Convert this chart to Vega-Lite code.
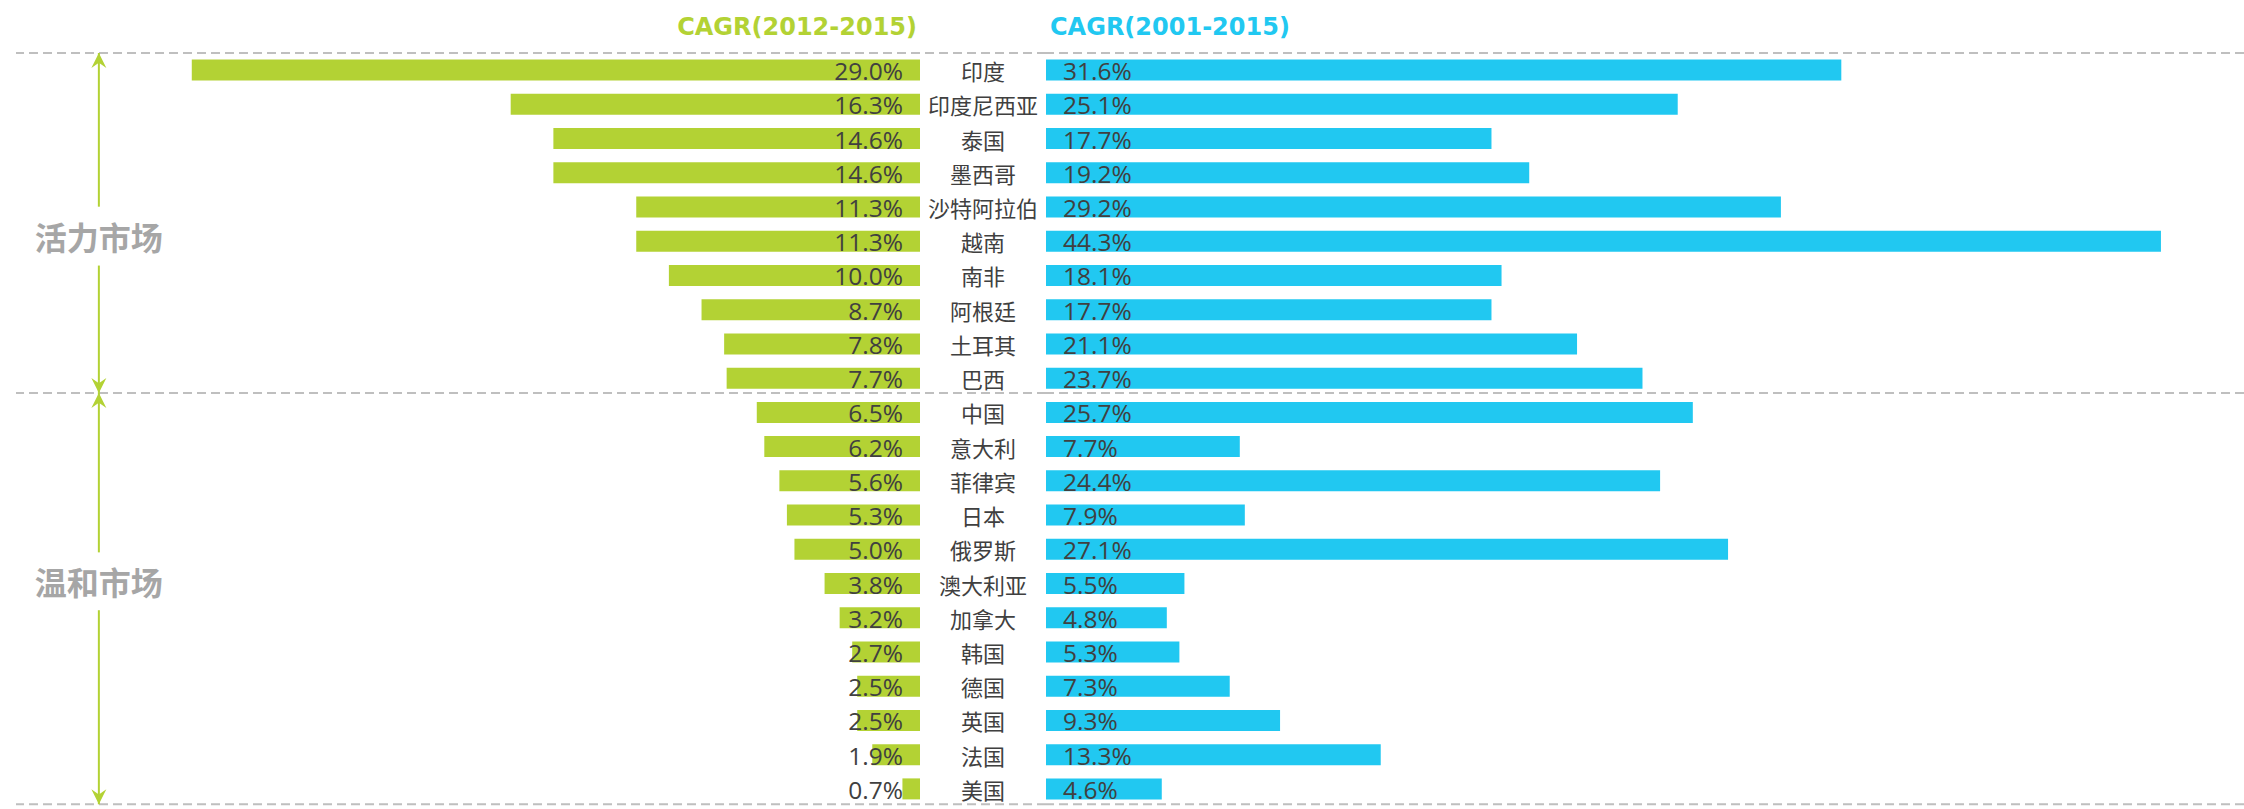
{
  "$schema": "https://vega.github.io/schema/vega-lite/v6.json",
  "padding": {"left": 15, "top": 16, "right": 0, "bottom": 0},
  "background": "white",
  "bounds": "flush",
  "spacing": 0,
  "config": {"view": {"stroke": null}},
  "datasets": {
    "rows": [
      {"country": "印度", "g": 0.290, "b": 0.316},
      {"country": "印度尼西亚", "g": 0.163, "b": 0.251},
      {"country": "泰国", "g": 0.146, "b": 0.177},
      {"country": "墨西哥", "g": 0.146, "b": 0.192},
      {"country": "沙特阿拉伯", "g": 0.113, "b": 0.292},
      {"country": "越南", "g": 0.113, "b": 0.443},
      {"country": "南非", "g": 0.100, "b": 0.181},
      {"country": "阿根廷", "g": 0.087, "b": 0.177},
      {"country": "土耳其", "g": 0.078, "b": 0.211},
      {"country": "巴西", "g": 0.077, "b": 0.237},
      {"country": "中国", "g": 0.065, "b": 0.257},
      {"country": "意大利", "g": 0.062, "b": 0.077},
      {"country": "菲律宾", "g": 0.056, "b": 0.244},
      {"country": "日本", "g": 0.053, "b": 0.079},
      {"country": "俄罗斯", "g": 0.050, "b": 0.271},
      {"country": "澳大利亚", "g": 0.038, "b": 0.055},
      {"country": "加拿大", "g": 0.032, "b": 0.048},
      {"country": "韩国", "g": 0.027, "b": 0.053},
      {"country": "德国", "g": 0.025, "b": 0.073},
      {"country": "英国", "g": 0.025, "b": 0.093},
      {"country": "法国", "g": 0.019, "b": 0.133},
      {"country": "美国", "g": 0.007, "b": 0.046}
    ],
    "dividers": [{"pos": 0}, {"pos": 9.93}, {"pos": 21.95}],
    "shafts": [
      {"from": 0, "to": 4.49},
      {"from": 6.21, "to": 9.93},
      {"from": 9.93, "to": 14.59},
      {"from": 16.28, "to": 21.95}
    ],
    "heads": [
      {"at": 0, "dir": "up"},
      {"at": 9.93, "dir": "down"},
      {"at": 9.93, "dir": "up"},
      {"at": 21.95, "dir": "down"}
    ],
    "groups": [
      {"name": "活力市场", "mid": 5.39},
      {"name": "温和市场", "mid": 15.47}
    ]
  },
  "hconcat": [
    {
      "width": 904,
      "height": 753,
      "title": {"text": "CAGR(2012-2015)", "anchor": "end", "color": "#B3D234", "font": "DejaVu Sans", "fontSize": 24, "fontWeight": "bold", "offset": -7, "baseline": "alphabetic", "dx": -4},
      "layer": [
        {
          "data": {"name": "rows"},
          "layer": [
            {
              "mark": {"type": "bar", "color": "#B3D234"},
              "encoding": {
                "y": {"field": "country", "type": "nominal", "sort": null, "axis": null, "scale": {"paddingInner": 0.387, "paddingOuter": 0.1935}},
                "x": {"field": "g", "type": "quantitative", "axis": null, "scale": {"domain": [0, 0.36], "reverse": true, "nice": false}}
              }
            },
            {
              "mark": {"type": "text", "align": "right", "baseline": "alphabetic", "dx": -17, "dy": 10, "font": "Open Sans", "fontSize": 24.5, "color": "#404040"},
              "encoding": {
                "y": {"field": "country", "type": "nominal", "sort": null, "axis": null},
                "x": {"datum": 0, "type": "quantitative"},
                "text": {"field": "g", "type": "quantitative", "format": ".1%"}
              }
            }
          ]
        },
        {
          "layer": [
            {
              "data": {"name": "dividers"},
              "mark": {"type": "rule", "color": "#BFBFBF", "strokeWidth": 2, "strokeDash": [9, 5]},
              "encoding": {"y": {"field": "pos", "type": "quantitative", "axis": null, "scale": {"domain": [0, 22], "reverse": true, "nice": false, "zero": false}}}
            },
            {
              "data": {"name": "shafts"},
              "mark": {"type": "rule", "color": "#B3D234", "strokeWidth": 2},
              "encoding": {
                "x": {"datum": 0.327, "type": "quantitative"},
                "y": {"field": "from", "type": "quantitative"},
                "y2": {"field": "to"}
              }
            },
            {
              "data": {"name": "heads"},
              "mark": {"type": "point", "filled": true, "opacity": 1, "color": "#B3D234", "size": 225, "strokeWidth": 0},
              "encoding": {
                "x": {"datum": 0.327, "type": "quantitative"},
                "y": {"field": "at", "type": "quantitative"},
                "shape": {"field": "dir", "type": "nominal", "legend": null, "scale": {"domain": ["up", "down"], "range": ["M0,0L-1,2L0,1.3L1,2Z", "M0,0L-1,-2L0,-1.3L1,-2Z"]}}
              }
            },
            {
              "data": {"name": "groups"},
              "mark": {"type": "text", "font": "Noto Sans CJK SC", "fontSize": 32, "fontWeight": "bold", "color": "#A6A6A6", "baseline": "middle", "dy": 3},
              "encoding": {
                "x": {"datum": 0.327, "type": "quantitative"},
                "y": {"field": "mid", "type": "quantitative"},
                "text": {"field": "name"}
              }
            }
          ]
        }
      ],
      "resolve": {"scale": {"y": "independent"}}
    },
    {
      "width": 126,
      "height": 753,
      "layer": [
        {
          "data": {"name": "rows"},
          "mark": {"type": "text", "font": "Noto Sans CJK SC", "fontSize": 22, "color": "#404040", "baseline": "alphabetic", "dy": 10},
          "encoding": {
            "y": {"field": "country", "type": "nominal", "sort": null, "axis": null, "scale": {"paddingInner": 0.387, "paddingOuter": 0.1935}},
            "text": {"field": "country"}
          }
        },
        {
          "data": {"name": "dividers"},
          "mark": {"type": "rule", "color": "#BFBFBF", "strokeWidth": 2, "strokeDash": [9, 5]},
          "encoding": {"y": {"field": "pos", "type": "quantitative", "axis": null, "scale": {"domain": [0, 22], "reverse": true, "nice": false, "zero": false}}}
        }
      ],
      "resolve": {"scale": {"y": "independent"}}
    },
    {
      "width": 1198,
      "height": 753,
      "title": {"text": "CAGR(2001-2015)", "anchor": "start", "color": "#21C8F1", "font": "DejaVu Sans", "fontSize": 24, "fontWeight": "bold", "offset": -7, "baseline": "alphabetic", "dx": 5},
      "layer": [
        {
          "data": {"name": "rows"},
          "layer": [
            {
              "mark": {"type": "bar", "color": "#21C8F1"},
              "encoding": {
                "y": {"field": "country", "type": "nominal", "sort": null, "axis": null, "scale": {"paddingInner": 0.387, "paddingOuter": 0.1935}},
                "x": {"field": "b", "type": "quantitative", "axis": null, "scale": {"domain": [0, 0.476], "nice": false}}
              }
            },
            {
              "mark": {"type": "text", "align": "left", "baseline": "alphabetic", "dx": 17, "dy": 10, "font": "Open Sans", "fontSize": 24.5, "color": "#404040"},
              "encoding": {
                "y": {"field": "country", "type": "nominal", "sort": null, "axis": null},
                "x": {"datum": 0, "type": "quantitative"},
                "text": {"field": "b", "type": "quantitative", "format": ".1%"}
              }
            }
          ]
        },
        {
          "data": {"name": "dividers"},
          "mark": {"type": "rule", "color": "#BFBFBF", "strokeWidth": 2, "strokeDash": [9, 5]},
          "encoding": {"y": {"field": "pos", "type": "quantitative", "axis": null, "scale": {"domain": [0, 22], "reverse": true, "nice": false, "zero": false}}}
        }
      ],
      "resolve": {"scale": {"y": "independent"}}
    }
  ]
}
